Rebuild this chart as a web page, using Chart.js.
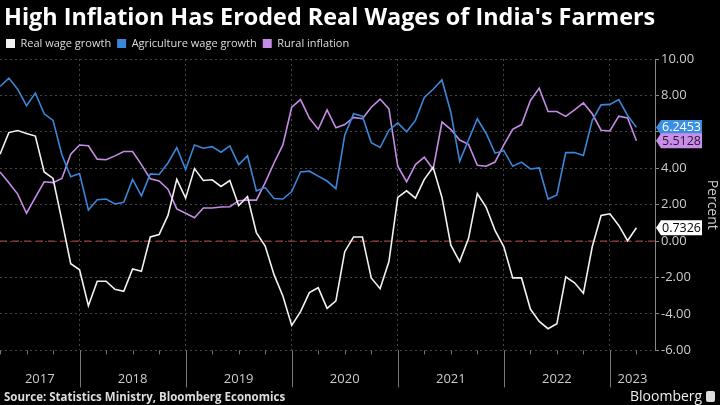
<!DOCTYPE html>
<html><head><meta charset="utf-8">
<script src="https://cdn.jsdelivr.net/npm/chart.js@4"></script>
<style>
html,body{margin:0;padding:0;background:#000;}
#wrap{position:relative;width:720px;height:405px;overflow:hidden;background:#000;}
#c{position:absolute;left:0;top:0;}
#title{position:absolute;left:4px;top:0px;font:bold 23.4px 'Open Sans',sans-serif;color:#fff;white-space:nowrap;}
#src{position:absolute;left:4px;top:389px;font:bold 11.5px 'Open Sans',sans-serif;color:#ddd;white-space:nowrap;}
#bb{position:absolute;left:630px;top:386px;font:14px 'Open Sans',sans-serif;color:#eee;white-space:nowrap;}
#bb i{display:inline-block;width:9px;height:11px;background:#ddd;border-radius:2px;margin-left:4px;vertical-align:-1px;}
</style></head><body>
<div id="wrap"><canvas id="c" width="720" height="405"></canvas>
<div id="title">High Inflation Has Eroded Real Wages of India's Farmers</div>
<div id="src">Source: Statistics Ministry, Bloomberg Economics</div>
<div id="bb">Bloomberg<i></i></div></div>
<script>
// Monthly observations, April 2017 (index 0) to April 2023 (index 72)
const years = ['2017','2018','2019','2020','2021','2022','2023'];
const firstMonthOffset = 3; // index 0 is the 4th month (April) of the first year
const seriesNames = ['Real wage growth','Agriculture wage growth','Rural inflation'];
const seriesColors = ['#f2f2f2','#3b86d8','#c58ce6'];
const realWage = [4.77,5.96,6.07,5.91,5.77,3.80,3.44,1.14,-1.24,-1.57,
  -3.55,-2.20,-2.20,-2.65,-2.76,-1.53,-1.66,0.23,0.36,1.41,
  3.39,2.36,3.98,3.33,3.37,3.00,3.33,1.95,2.45,0.47,
  -0.27,-1.84,-3.01,-4.63,-3.87,-2.83,-2.56,-3.69,-3.28,-0.58,
  0.23,0.23,-2.02,-2.61,-1.12,2.40,2.76,2.36,3.39,4.05,
  2.40,-0.22,-1.12,0.14,2.61,1.86,0.59,-0.31,-2.02,-2.02,
  -3.73,-4.41,-4.81,-4.54,-1.96,-2.29,-2.86,-0.31,1.41,1.50,
  0.86,0.02,0.7326];
const agriWage = [8.49,8.95,8.34,7.44,8.13,6.99,6.63,4.74,3.53,3.71,
  1.71,2.27,2.31,2.04,2.13,3.39,2.49,3.69,3.66,4.29,
  5.14,3.93,5.28,5.10,5.19,4.88,5.23,4.20,4.68,2.76,
  2.94,2.34,2.31,2.72,3.80,3.84,3.57,3.30,2.88,5.82,
  6.99,6.86,5.41,5.14,6.09,6.49,6.00,6.63,7.89,8.34,
  8.85,7.08,4.38,5.55,6.72,5.91,4.83,4.97,4.11,4.34,
  3.96,4.02,2.31,2.54,4.86,4.86,4.70,6.63,7.48,7.51,
  7.77,6.90,6.2453];
const ruralInfl = [3.80,3.21,2.58,1.53,2.40,3.26,3.21,3.44,4.77,5.28,
  5.24,4.50,4.47,4.68,4.92,4.92,4.20,3.42,3.30,2.85,
  1.77,1.53,1.28,1.82,1.82,1.87,1.89,2.22,2.25,2.25,
  3.21,4.29,5.28,7.35,7.77,6.76,6.14,7.21,6.22,6.40,
  6.79,6.72,7.35,7.80,7.26,4.11,3.26,4.20,4.61,3.95,
  6.54,6.14,5.55,5.32,4.16,4.11,4.34,5.28,6.14,6.40,
  7.71,8.40,7.12,7.12,6.85,7.21,7.59,6.99,6.09,6.05,
  6.86,6.76,5.5128];
const yMin = -6, yMax = 10, yLabelStep = 2;
const xMax = 74.1;

Chart.defaults.font.family = "'Open Sans', sans-serif";

const toPts = arr => arr.map((v, i) => ({x: i, y: v}));
const seriesData = [realWage, agriWage, ruralInfl];

// x ticks: year boundaries (grid lines) and year centres (labels)
const boundaries = [], centres = [];
years.forEach((yr, k) => {
  const start = k * 12 - firstMonthOffset, end = start + 12;
  if (start > 0) boundaries.push(start);
  const a = Math.max(0, start), b = Math.min(xMax, end);
  centres.push({value: (a + b) / 2, label: yr});
});
const xTickList = boundaries.map(v => ({value: v, label: ''}))
  .concat(centres.map(c => ({value: c.value, label: c.label})))
  .sort((p, q) => p.value - q.value);
const isBoundary = v => boundaries.indexOf(v) !== -1;

const zeroLine = {
  id: 'zeroLine',
  beforeDatasetsDraw(chart) {
    const {ctx, chartArea: ca, scales: {y}} = chart;
    const py = y.getPixelForValue(0);
    ctx.save();
    ctx.strokeStyle = '#a33a3a'; ctx.lineWidth = 1.3; ctx.setLineDash([7, 5]);
    ctx.beginPath(); ctx.moveTo(ca.left, py); ctx.lineTo(ca.right, py); ctx.stroke();
    ctx.restore();
  }
};
const xDecor = {
  id: 'xDecor',
  afterDraw(chart) {
    const {ctx, chartArea: ca, scales: {x}} = chart;
    ctx.save(); ctx.strokeStyle = '#777'; ctx.lineWidth = 1;
    for (let i = 0; i <= xMax; i += 3) {
      const px = Math.round(x.getPixelForValue(i)) + 0.5;
      ctx.beginPath(); ctx.moveTo(px, ca.bottom); ctx.lineTo(px, ca.bottom + 4); ctx.stroke();
    }
    boundaries.forEach(v => {
      const px = Math.round(x.getPixelForValue(v)) + 0.5;
      ctx.beginPath(); ctx.moveTo(px, ca.bottom); ctx.lineTo(px, ca.bottom + 37); ctx.stroke();
    });
    ctx.restore();
  }
};
const badges = {
  id: 'badges',
  afterDraw(chart) {
    const {ctx, chartArea: ca, scales: {y}} = chart;
    const fills = ['#ffffff', '#3b8fe2', '#c88ee8'];
    const texts = ['#000', '#fff', '#2a1736'];
    ctx.save();
    ctx.font = "12.5px 'Open Sans', sans-serif";
    ctx.textBaseline = 'middle';
    seriesData.forEach((arr, k) => {
      const v = arr[arr.length - 1];
      const py = y.getPixelForValue(v);
      const x0 = ca.right + 1, w = 46, h = 15;
      ctx.fillStyle = fills[k];
      ctx.beginPath();
      ctx.moveTo(x0, py);
      ctx.lineTo(x0 + 5, py - h / 2);
      ctx.lineTo(x0 + w, py - h / 2);
      ctx.lineTo(x0 + w, py + h / 2);
      ctx.lineTo(x0 + 5, py + h / 2);
      ctx.closePath(); ctx.fill();
      ctx.fillStyle = texts[k];
      ctx.fillText(v.toFixed(4), x0 + 6, py + 0.5);
    });
    ctx.restore();
  }
};

new Chart(document.getElementById('c'), {
  type: 'line',
  data: {
    datasets: seriesNames.map((n, k) => ({
      label: n, data: toPts(seriesData[k]), borderColor: seriesColors[k],
      backgroundColor: seriesColors[k], borderWidth: 1.6, pointRadius: 0, tension: 0
    }))
  },
  options: {
    responsive: false, animation: false, devicePixelRatio: 1,
    layout: {padding: {top: 32, left: 0, right: 0, bottom: 1}},
    plugins: {
      legend: {
        position: 'top', align: 'start',
        labels: {
          color: '#ddd', boxWidth: 9, boxHeight: 9, padding: 6, font: {size: 11},
          generateLabels: chart => chart.data.datasets.map((d, i) => ({
            text: d.label, fillStyle: d.borderColor, strokeStyle: d.borderColor,
            lineWidth: 0, fontColor: '#ddd', datasetIndex: i, hidden: false
          }))
        }
      },
      tooltip: {enabled: false}
    },
    scales: {
      x: {
        type: 'linear', min: 0, max: xMax,
        afterBuildTicks: axis => { axis.ticks = xTickList.map(t => ({value: t.value})); },
        afterTickToLabelConversion: axis => {
          axis.ticks.forEach(t => {
            const m = xTickList.find(q => Math.abs(q.value - t.value) < 1e-6);
            t.label = m ? m.label : '';
          });
        },
        ticks: {autoSkip: false, maxRotation: 0, minRotation: 0, color: '#ccc', font: {size: 13}, padding: 17},
        grid: {
          color: ctx => (ctx.tick && isBoundary(ctx.tick.value)) ? '#444' : 'rgba(0,0,0,0)',
          tickColor: 'rgba(0,0,0,0)',
          tickLength: 4, lineWidth: 1
        },
        border: {display: false, dash: [2, 3]}
      },
      y: {
        position: 'right', min: yMin, max: yMax,
        afterFit: s => { s.width = 65; },
        ticks: {
          stepSize: 1, color: '#ccc', font: {size: 13}, padding: 2,
          callback: v => (v % yLabelStep === 0 ? v.toFixed(2) : '')
        },
        grid: {
          color: ctx => (ctx.tick && ctx.tick.value % yLabelStep === 0) ? '#444' : 'rgba(0,0,0,0)',
          tickColor: '#888', tickLength: 4, lineWidth: 1
        },
        border: {display: true, color: '#888', dash: [2, 3]},
        title: {display: true, text: 'Percent', color: '#ccc', font: {size: 14}, padding: 0}
      }
    }
  },
  plugins: [zeroLine, xDecor, badges]
});
</script>
</body></html>
